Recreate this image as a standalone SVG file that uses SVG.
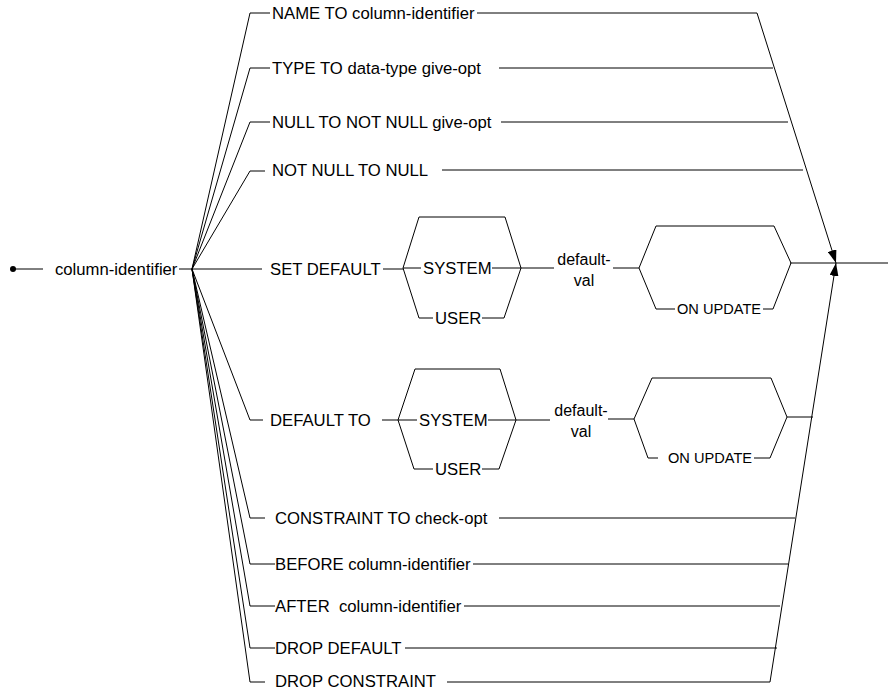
<svg xmlns="http://www.w3.org/2000/svg" width="892" height="692" viewBox="0 0 892 692">
<style>
text{font-family:"Liberation Sans",Arial,sans-serif;font-size:16.7px;fill:#000;white-space:pre}
.s{font-size:14.6px}
.d{font-size:16px}
.c line,.c polyline,.c polygon,.c path{stroke:#000;stroke-width:1;fill:none}
</style>
<defs>
<marker id="arr" markerUnits="userSpaceOnUse" markerWidth="13" markerHeight="9" refX="13" refY="4.5" orient="auto">
<path d="M0,0 L13,4.5 L0,9 z" fill="#000"/>
</marker>
</defs>
<rect width="892" height="692" fill="#fff"/>
<g id="start">
<circle cx="13" cy="269" r="3" fill="#000"/>
<text x="55" y="275">column-identifier</text>
</g>
<g id="n-name"><text x="272" y="19">NAME TO column-identifier</text></g>
<g id="n-type"><text x="272" y="74">TYPE TO data-type give-opt</text></g>
<g id="n-null"><text x="272" y="128">NULL TO NOT NULL give-opt</text></g>
<g id="n-notnull"><text x="272" y="176">NOT NULL TO NULL</text></g>
<g id="n-setdefault"><text x="270" y="275">SET DEFAULT</text></g>
<g id="n-system1"><text x="423" y="274">SYSTEM</text></g>
<g id="n-user1"><text x="435" y="324">USER</text></g>
<g id="n-val1"><text class="d" x="584" y="265" text-anchor="middle">default-</text><text class="d" x="584" y="286" text-anchor="middle">val</text></g>
<g id="n-onupd1"><text class="s" x="677" y="314">ON UPDATE</text></g>
<g id="n-defaultto"><text x="270" y="426">DEFAULT TO</text></g>
<g id="n-system2"><text x="419" y="426">SYSTEM</text></g>
<g id="n-user2"><text x="435" y="475">USER</text></g>
<g id="n-val2"><text class="d" x="581" y="416" text-anchor="middle">default-</text><text class="d" x="581" y="437" text-anchor="middle">val</text></g>
<g id="n-onupd2"><text class="s" x="668" y="463">ON UPDATE</text></g>
<g id="n-constraint"><text x="275" y="524">CONSTRAINT TO check-opt</text></g>
<g id="n-before"><text x="275" y="570">BEFORE column-identifier</text></g>
<g id="n-after"><text x="275" y="612">AFTER  column-identifier</text></g>
<g id="n-dropdef"><text x="275" y="654">DROP DEFAULT</text></g>
<g id="n-dropcon"><text x="275" y="687">DROP CONSTRAINT</text></g>
<g id="connectors" class="c">
<line x1="13" y1="269" x2="43" y2="269"/>
<line x1="179" y1="269" x2="192" y2="269"/>
<polyline points="192,269 250,13 270,13"/>
<polyline points="192,269 250,68 270,68"/>
<polyline points="192,269 250,122 270,122"/>
<polyline points="192,269 250,171 265,171"/>
<line x1="192" y1="269" x2="262" y2="269"/>
<polyline points="192,269 250,420 263,420"/>
<polyline points="192,269 250,518 265,518"/>
<polyline points="192,269 250,564 275,564"/>
<polyline points="192,269 250,606 275,606"/>
<polyline points="192,269 250,648 275,648"/>
<polyline points="192,269 250,682 265,682"/>
<line x1="477" y1="13" x2="757" y2="13"/>
<line x1="499" y1="68" x2="773" y2="68"/>
<line x1="501" y1="122" x2="788" y2="122"/>
<line x1="442" y1="170" x2="803" y2="170"/>
<line x1="499" y1="518" x2="795" y2="518"/>
<line x1="473" y1="564" x2="788" y2="564"/>
<line x1="464" y1="606" x2="780" y2="606"/>
<line x1="405" y1="648" x2="777" y2="648"/>
<line x1="447" y1="682" x2="770" y2="682"/>
<line x1="757" y1="13" x2="836" y2="263" marker-end="url(#arr)"/>
<line x1="770" y1="682" x2="836" y2="263" marker-end="url(#arr)"/>
<line x1="790" y1="263" x2="888" y2="263"/>
<line x1="383" y1="269" x2="403" y2="269"/>
<polyline points="403,268 419,217 505,217 521,268 504,318 482,318"/>
<polyline points="403,268 419,318 433,318"/>
<line x1="403" y1="268" x2="421" y2="268"/>
<line x1="492" y1="268" x2="521" y2="268"/>
<line x1="521" y1="268" x2="554" y2="268"/>
<line x1="613" y1="268" x2="639" y2="268"/>
<polyline points="639,268 656,226 774,226 791,263 773,309 763,309"/>
<polyline points="639,268 656,309 675,309"/>
<line x1="382" y1="420" x2="398" y2="420"/>
<polyline points="398,420 415,369 500,369 516,420 499,469 482,469"/>
<polyline points="398,420 414,469 433,469"/>
<line x1="398" y1="420" x2="417" y2="420"/>
<line x1="488" y1="420" x2="516" y2="420"/>
<line x1="516" y1="420" x2="550" y2="420"/>
<line x1="608" y1="419" x2="634" y2="419"/>
<polyline points="634,419 652,378 771,378 787,417 770,458 754,458"/>
<polyline points="634,419 648,458 658,458"/>
<line x1="787" y1="417" x2="813" y2="417"/>
</g>
</svg>
